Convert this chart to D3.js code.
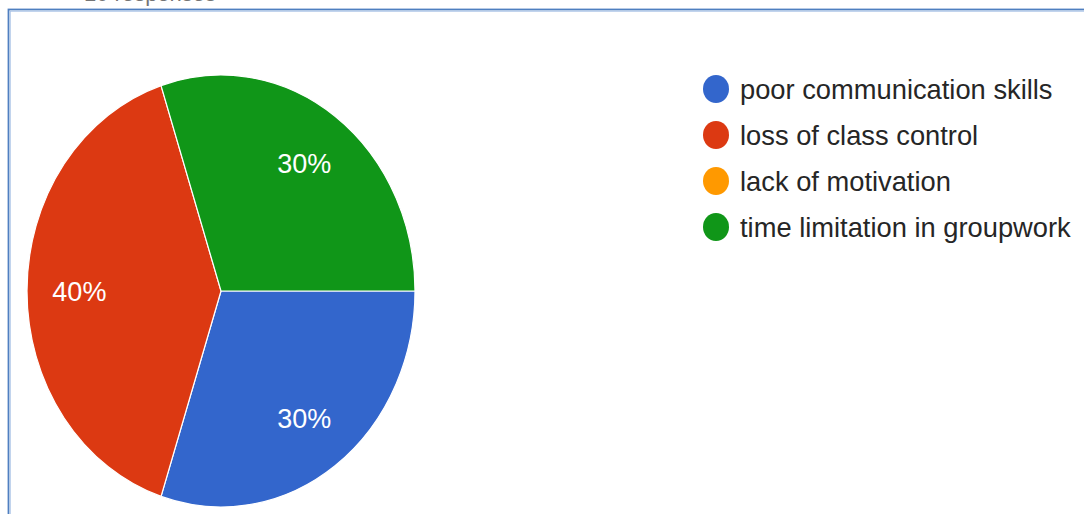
<!DOCTYPE html>
<html>
<head>
<meta charset="utf-8">
<script src="https://cdn.jsdelivr.net/npm/d3@7"></script>
<style>
  html, body { margin: 0; padding: 0; background: #fff; }
  svg { display: block; }
  text { font-family: "Liberation Sans", Arial, sans-serif; }
</style>
</head>
<body>
<svg id="chart" width="1084" height="514"></svg>
<script>
// Responses per answer option
const categories = ["poor communication skills", "loss of class control", "lack of motivation", "time limitation in groupwork"];
const responses = [3, 4, 0, 3];
const colors = ["#3366cc", "#dc3912", "#ff9900", "#109618"];
const subtitle = "10 responses";

const W = 1084, H = 514;
const svg = d3.select("#chart");

// Card frame
svg.append("rect")
  .attr("x", 8.5).attr("y", 9.5)
  .attr("width", W + 20).attr("height", H + 20)
  .attr("fill", "none").attr("stroke", "#4f7fc0").attr("stroke-width", 1.8);
svg.append("rect")
  .attr("x", 10.2).attr("y", 11.2)
  .attr("width", W + 20).attr("height", H + 20)
  .attr("fill", "none").attr("stroke", "#a9c2e6").attr("stroke-width", 1);

// Response count line above the card (mostly clipped)
svg.append("text")
  .attr("x", 84).attr("y", 1)
  .attr("font-size", 22).attr("fill", "#757575")
  .text(subtitle);

// Pie, slightly taller than wide
const cx = 221, cy = 291, rx = 194, ry = 216;
const total = d3.sum(responses);
const pieGen = d3.pie().value(d => d.v).sort(null)
  .startAngle(Math.PI / 2).endAngle(Math.PI / 2 + 2 * Math.PI);
const slices = pieGen(responses.map((v, i) => ({ v, i })));

const arc = d3.arc().innerRadius(0).outerRadius(rx);

const g = svg.append("g")
  .attr("transform", `translate(${cx},${cy}) scale(1,${ry / rx})`);
g.selectAll("path")
  .data(slices.filter(s => s.value > 0))
  .join("path")
  .attr("d", arc)
  .attr("fill", d => colors[d.data.i])
  .attr("stroke", "#ffffff")
  .attr("stroke-width", 1.2)
  .attr("vector-effect", "non-scaling-stroke");

// Percentage labels
const labelR = 0.73;
svg.selectAll("text.pct")
  .data(slices.filter(s => s.value > 0))
  .join("text")
  .attr("class", "pct")
  .attr("x", d => cx + Math.sin((d.startAngle + d.endAngle) / 2) * rx * labelR)
  .attr("y", d => cy - Math.cos((d.startAngle + d.endAngle) / 2) * ry * labelR)
  .attr("dy", "0.36em")
  .attr("text-anchor", "middle")
  .attr("font-size", 27)
  .attr("fill", "#ffffff")
  .text(d => Math.round(d.value / total * 100) + "%");

// Legend
const legendY = d3.scalePoint().domain(categories).range([89, 227]);
const items = svg.append("g").selectAll("g").data(categories).join("g")
  .attr("transform", d => `translate(0,${legendY(d)})`);
items.append("ellipse")
  .attr("cx", 716).attr("cy", 0).attr("rx", 13).attr("ry", 14)
  .attr("fill", (d, i) => colors[i]);
items.append("text")
  .attr("x", 740).attr("y", 10)
  .attr("font-size", 27.3)
  .attr("fill", "#262626")
  .text(d => d);
</script>
</body>
</html>
